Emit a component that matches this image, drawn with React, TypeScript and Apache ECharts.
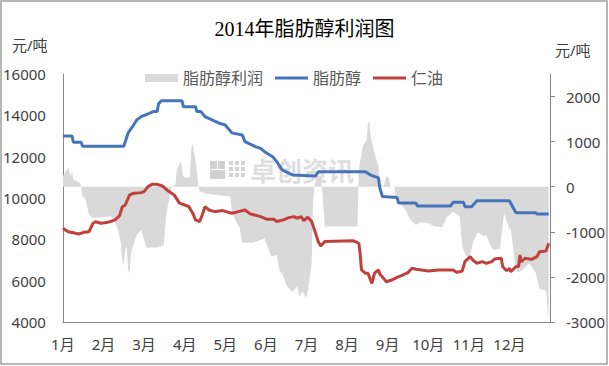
import { useEffect, useRef } from 'react';
import * as echarts from 'echarts';

const TITLE = '2014年脂肪醇利润图';
const UNIT = '元/吨';
const MONTH_LABELS = ['1月', '2月', '3月', '4月', '5月', '6月', '7月', '8月', '9月', '10月', '11月', '12月'];
const LEFT_TICKS = [4000, 6000, 8000, 10000, 12000, 14000, 16000];
const RIGHT_TICKS = [-3000, -2000, -1000, 0, 1000, 2000];
const SERIES_NAMES = ['脂肪醇利润', '脂肪醇', '仁油'];
const WATERMARK = '卓创资讯';

// 脂肪醇利润 (right axis)
const PROFIT_DATES = [
  '01-01', '01-05', '01-07', '01-08', '01-09', '01-14', '01-15', '01-16', '01-18', '01-21',
  '01-24', '02-06', '02-08', '02-11', '02-12', '02-13', '02-14', '02-15', '02-16', '02-17',
  '02-18', '02-19', '02-20', '02-22', '02-24', '02-27', '03-01', '03-03', '03-06', '03-11',
  '03-16', '03-18', '03-21', '03-22', '03-25', '03-26', '03-29', '03-31', '04-03', '04-05',
  '04-06', '04-07', '04-08', '04-10', '04-11', '04-12', '04-16', '05-05', '05-06', '05-12',
  '05-14', '05-22', '05-25', '05-31', '06-03', '06-05', '06-09', '06-11', '06-14', '06-16',
  '06-19', '06-21', '06-24', '06-25', '06-26', '06-27', '06-28', '07-01', '07-03', '07-05',
  '07-06', '07-07', '07-09', '07-12', '07-13', '07-15', '08-09', '08-10', '08-13', '08-16',
  '08-17', '08-18', '08-19', '08-22', '08-25', '08-26', '08-29', '08-31', '09-02', '09-03',
  '09-06', '09-07', '09-11', '09-15', '09-17', '09-20', '09-22', '09-26', '10-01', '10-06',
  '10-11', '10-12', '10-15', '10-20', '10-25', '10-27', '10-30', '11-02', '11-04', '11-07',
  '11-09', '11-12', '11-14', '11-16', '11-19', '11-24', '11-26', '11-27', '11-28', '12-01',
  '12-02', '12-04', '12-05', '12-07', '12-11', '12-16', '12-21', '12-24', '12-29', '12-30',
  '12-31',
];
const PROFIT_VALUES = [
  230, 420, 230, 340, 155, 80, 0, -215, -250, -620,
  -695, -660, -730, -955, -1100, -1250, -1660, -1730, -1400, -1325,
  -1840, -1920, -1470, -1250, -1065, -955, -1175, -1360, -1350, -1350,
  -1300, -600, -150, 0, 50, 380, 560, 230, 190, 230,
  895, 930, 750, 380, 45, -100, -150, -215, -580, -910,
  -1245, -1245, -1215, -1140, -1400, -1550, -1510, -1840, -1990, -2175,
  -2290, -2330, -2210, -2330, -2440, -2360, -2330, -2470, -2140, -1690,
  -360, 0, 230, 230, -50, -880, -880, 380, 895, 1040,
  1410, 1450, 1115, 750, 450, 80, 0, 230, 190, 0,
  0, -250, -400, -550, -700, -805, -845, -790, -805, -880,
  -900, -880, -680, -550, -660, -1325, -1550, -1520, -1250, -1030,
  -1030, -1100, -1070, -1250, -1400, -1380, -880, -600, -660, -955,
  -900, -1400, -1650, -1900, -1850, -1700, -1900, -2270, -2300, -2660,
  -2920,
];

// 脂肪醇 (left axis)
const ALCOHOL_DATES = [
  '01-01', '01-08', '01-09', '01-15', '01-16', '02-15', '02-18', '02-21', '02-24', '02-27',
  '03-05', '03-08', '03-11', '03-12', '03-14', '03-30', '03-31', '04-09', '04-10', '04-13',
  '04-16', '04-26', '05-01', '05-06', '05-14', '05-16', '05-24', '05-28', '05-31', '06-06',
  '06-09', '06-13', '06-21', '07-08', '07-10', '08-15', '08-19', '08-25', '08-26', '08-28',
  '09-08', '09-09', '09-22', '09-23', '10-18', '10-20', '10-28', '10-29', '11-03', '11-07',
  '12-01', '12-06', '12-21', '12-22', '12-31',
];
const ALCOHOL_VALUES = [
  13000, 13000, 12700, 12700, 12500, 12500, 13150, 13450, 13780, 13940,
  14100, 14180, 14180, 14550, 14700, 14700, 14420, 14420, 14180, 14180,
  13940, 13630, 13530, 13150, 13050, 12730, 12490, 12400, 12240, 12000,
  11760, 11360, 11110, 11070, 11270, 11270, 11110, 10970, 10490, 10070,
  10020, 9760, 9760, 9610, 9610, 9790, 9790, 9580, 9580, 9870,
  9870, 9290, 9290, 9230, 9230,
];

// 仁油 (left axis)
const OIL_DATES = [
  '01-01', '01-05', '01-09', '01-13', '01-17', '01-21', '01-24', '01-26', '01-30', '02-03',
  '02-07', '02-09', '02-12', '02-14', '02-16', '02-19', '02-22', '02-27', '03-01', '03-04',
  '03-07', '03-11', '03-15', '03-20', '03-24', '03-28', '04-04', '04-07', '04-09', '04-12',
  '04-14', '04-16', '04-19', '04-23', '04-29', '05-06', '05-11', '05-16', '05-20', '05-28',
  '06-02', '06-07', '06-09', '06-14', '06-18', '06-22', '06-24', '06-27', '06-29', '07-02',
  '07-05', '07-08', '07-10', '07-12', '07-15', '08-06', '08-10', '08-11', '08-12', '08-15',
  '08-17', '08-20', '08-22', '08-25', '08-26', '08-29', '08-31', '09-04', '09-08', '09-12',
  '09-16', '09-19', '09-22', '09-26', '10-01', '10-09', '10-20', '10-23', '10-27', '10-29',
  '11-02', '11-04', '11-07', '11-11', '11-14', '11-18', '11-20', '11-25', '11-26', '11-29',
  '12-01', '12-02', '12-06', '12-08', '12-09', '12-10', '12-13', '12-18', '12-22', '12-24',
  '12-29', '12-31',
];
const OIL_VALUES = [
  8535, 8370, 8320, 8260, 8340, 8370, 8780, 8850, 8780, 8810,
  8890, 8940, 9130, 9580, 9660, 10150, 10230, 10260, 10310, 10550,
  10660, 10660, 10580, 10310, 10150, 9750, 9590, 9260, 8940, 8860,
  9180, 9580, 9420, 9340, 9390, 9260, 9340, 9420, 9230, 9100,
  8970, 8970, 8860, 8940, 9050, 9100, 9020, 9100, 8910, 9070,
  8860, 8290, 7890, 7680, 7890, 7930, 7810, 7320, 6520, 6360,
  6360, 5870, 6360, 6520, 6320, 6110, 5950, 6030, 6160, 6270,
  6390, 6600, 6550, 6520, 6470, 6520, 6520, 6400, 6470, 6920,
  7160, 7000, 6840, 6920, 6840, 6920, 7050, 7080, 6680, 6480,
  6600, 6430, 6680, 6680, 7240, 6920, 7080, 7030, 7160, 7400,
  7430, 7810,
];

const DAYS_IN_MONTH = [31, 28, 31, 30, 31, 30, 31, 31, 30, 31, 30, 31];
function monthPos(md: string): number {
  const [m, d] = md.split('-').map(Number);
  return m - 1 + (d - 1) / DAYS_IN_MONTH[m - 1];
}
function toPoints(dates: string[], values: number[]) {
  return dates.map((d, i) => [monthPos(d), values[i]]);
}

const FONT = "'Noto Sans', 'Noto Sans CJK SC', sans-serif";
const AXIS_COLOR = '#868686';
const LABEL_COLOR = '#404040';
const LINE_ICON = 'path://M0,0L33,0L33,3L0,3Z';

export default function App() {
  const ref = useRef<HTMLDivElement>(null);

  useEffect(() => {
    if (!ref.current) return;
    const chart = echarts.init(ref.current, null, { renderer: 'svg' });

    const logo: any[] = [];
    logo.push({ type: 'rect', shape: { x: 210, y: 161, width: 7, height: 8 }, style: { fill: '#d0d0d0' } });
    logo.push({ type: 'rect', shape: { x: 218, y: 161, width: 7, height: 8 }, style: { fill: '#d0d0d0' } });
    logo.push({ type: 'rect', shape: { x: 210, y: 170, width: 15, height: 9 }, style: { fill: '#d0d0d0' } });
    for (let r = 0; r < 3; r++) {
      for (let c = 0; c < 3; c++) {
        logo.push({
          type: 'rect',
          shape: { x: 229 + c * 6, y: 161 + r * 6, width: 4, height: 4 },
          style: { fill: '#d4d4d4' },
        });
      }
    }

    const plain = (v: number) => String(v);

    const option: any = {
      animation: false,
      textStyle: { fontFamily: FONT },
      title: {
        text: TITLE,
        left: 'center',
        top: 14,
        textStyle: {
          fontFamily: "'Liberation Serif', 'Noto Sans CJK SC', serif",
          fontSize: 20,
          fontWeight: 'normal',
          color: '#000',
        },
      },
      legend: {
        left: 145,
        top: 70,
        padding: 0,
        itemWidth: 33,
        itemHeight: 8,
        itemGap: 12,
        textStyle: { fontSize: 16, color: '#595959', fontFamily: FONT },
        data: [
          { name: SERIES_NAMES[0], icon: 'rect', itemStyle: { color: '#d9d9d9' } },
          { name: SERIES_NAMES[1], icon: LINE_ICON, itemStyle: { color: '#4674bb' } },
          { name: SERIES_NAMES[2], icon: LINE_ICON, itemStyle: { color: '#c0403d' } },
        ],
      },
      grid: { left: 62, right: 59, top: 74, bottom: 44 },
      xAxis: {
        type: 'value',
        min: 0,
        max: 12,
        interval: 1,
        axisLine: { onZero: false, lineStyle: { color: AXIS_COLOR } },
        axisTick: { show: false },
        splitLine: { show: false },
        axisLabel: {
          fontSize: 15,
          color: LABEL_COLOR,
          margin: 14,
          showMaxLabel: false,
          formatter: (v: number) => MONTH_LABELS[Math.round(v)] ?? '',
        },
      },
      yAxis: [
        {
          type: 'value',
          min: 4000,
          max: 16000,
          interval: 2000,
          position: 'left',
          axisLine: { show: true, lineStyle: { color: AXIS_COLOR } },
          axisTick: { show: false },
          splitLine: { show: false },
          axisLabel: { fontSize: 15, color: LABEL_COLOR, margin: 17, customValues: LEFT_TICKS, formatter: plain },
        },
        {
          type: 'value',
          min: -3000,
          max: 2500,
          interval: 1000,
          position: 'right',
          axisLine: { show: true, lineStyle: { color: AXIS_COLOR } },
          axisTick: { show: true, length: 5, lineStyle: { color: AXIS_COLOR }, customValues: RIGHT_TICKS },
          splitLine: { show: false },
          axisLabel: { fontSize: 15, color: LABEL_COLOR, margin: 16, customValues: RIGHT_TICKS, formatter: plain },
        },
      ],
      series: [
        {
          name: SERIES_NAMES[0],
          type: 'line',
          yAxisIndex: 1,
          z: 1,
          symbol: 'none',
          data: toPoints(PROFIT_DATES, PROFIT_VALUES),
          itemStyle: { color: '#d9d9d9' },
          lineStyle: { width: 0, color: '#d9d9d9' },
          areaStyle: { color: '#d9d9d9', opacity: 1 },
        },
        {
          name: SERIES_NAMES[1],
          type: 'line',
          yAxisIndex: 0,
          z: 3,
          symbol: 'none',
          data: toPoints(ALCOHOL_DATES, ALCOHOL_VALUES),
          itemStyle: { color: '#4674bb' },
          lineStyle: { width: 3, color: '#4674bb' },
        },
        {
          name: SERIES_NAMES[2],
          type: 'line',
          yAxisIndex: 0,
          z: 3,
          symbol: 'none',
          data: toPoints(OIL_DATES, OIL_VALUES),
          itemStyle: { color: '#c0403d' },
          lineStyle: { width: 3, color: '#c0403d' },
        },
      ],
      graphic: [
        {
          type: 'rect',
          z: 0,
          silent: true,
          shape: { x: 1, y: 1, width: 606, height: 363 },
          style: { fill: 'none', stroke: '#a0a0a0', lineWidth: 1.5 },
        },
        {
          type: 'text',
          x: 12,
          y: 45,
          style: { text: UNIT, fontSize: 15, fill: LABEL_COLOR, fontFamily: FONT, verticalAlign: 'middle' },
        },
        {
          type: 'text',
          x: 555,
          y: 50,
          style: { text: UNIT, fontSize: 15, fill: LABEL_COLOR, fontFamily: FONT, verticalAlign: 'middle' },
        },
        {
          type: 'group',
          z: 2,
          silent: true,
          children: [
            ...logo,
            {
              type: 'text',
              x: 250,
              y: 171,
              style: {
                text: WATERMARK,
                fontSize: 26,
                fontWeight: 'bold',
                fill: 'rgba(180,180,180,0.45)',
                fontFamily: FONT,
                verticalAlign: 'middle',
              },
            },
          ],
        },
      ],
    };

    chart.setOption(option);
    return () => chart.dispose();
  }, []);

  return (
    <div
      ref={ref}
      style={{ position: 'absolute', left: 0, top: 0, width: 609, height: 366, background: '#fff' }}
    />
  );
}
